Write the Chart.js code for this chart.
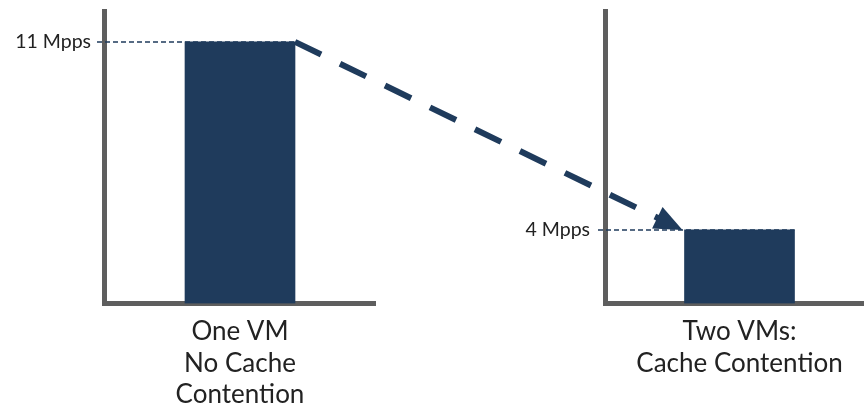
<!DOCTYPE html>
<html>
<head>
<meta charset="utf-8">
<script src="https://cdn.jsdelivr.net/npm/chart.js@4"></script>
<style>
  html, body { margin: 0; padding: 0; background: #fff; }
  body { width: 864px; height: 407px; position: relative; overflow: hidden; }
  canvas { position: absolute; top: 0; }
  #chartA { left: 0; }
  #chartB { left: 480px; }
  #arrow { left: 0; pointer-events: none; }
</style>
</head>
<body>
<canvas id="chartA" width="376" height="407"></canvas>
<canvas id="chartB" width="394" height="407"></canvas>
<canvas id="arrow" width="864" height="407"></canvas>
<script>
// Packet throughput, one VM vs. two VMs sharing the cache
const categoriesA = [['One VM', 'No Cache', 'Contention']];
const categoriesB = [['Two VMs:', 'Cache Contention']];
const valuesA = [11];
const valuesB = [4];
const tickValuesA = [11];
const tickValuesB = [4];
const unit = 'Mpps';
// each panel has its own (illustrative) vertical extent
const yMaxA = 12.3;
const yMaxB = 15.9;

const BAR = '#1f3b5c';
const AXIS = '#5e5e5e';
const TEXT = '#222222';
const FONT = 'Lato, "Noto Sans", sans-serif';

// thin dashed guide from the tick label across the top of the bar
const guidePlugin = {
  id: 'guide',
  afterDatasetsDraw(chart) {
    const ctx = chart.ctx;
    const yScale = chart.scales.y;
    const bar = chart.getDatasetMeta(0).data[0];
    const v = chart.data.datasets[0].data[0];
    const y = yScale.getPixelForValue(v);
    ctx.save();
    ctx.strokeStyle = BAR;
    ctx.lineWidth = 1.5;
    ctx.setLineDash([5, 3]);
    ctx.beginPath();
    ctx.moveTo(chart.chartArea.left - 7, y);
    ctx.lineTo(bar.x + bar.width / 2, y);
    ctx.stroke();
    ctx.restore();
  }
};

function makeChart(id, labels, values, ticks, yMax, yWidth, tickPad) {
  return new Chart(document.getElementById(id), {
    type: 'bar',
    data: {
      labels: labels,
      datasets: [{
        data: values,
        backgroundColor: BAR,
        borderWidth: 0,
        barThickness: 110
      }]
    },
    options: {
      responsive: false,
      animation: false,
      events: [],
      layout: { padding: { top: 11, right: 0, bottom: 0, left: 0 } },
      plugins: { legend: { display: false }, tooltip: { enabled: false } },
      scales: {
        x: {
          grid: { display: false, drawTicks: false },
          border: { display: true, color: AXIS, width: 5 },
          ticks: {
            color: TEXT,
            padding: 13,
            maxRotation: 0,
            autoSkip: false,
            font: { family: FONT, size: 26, lineHeight: 1.2 }
          },
          afterFit(s) { s.height = 103.5; s.paddingLeft = 0; s.paddingRight = 0; }
        },
        y: {
          min: 0,
          max: yMax,
          grid: { display: false, drawTicks: false },
          border: { display: true, color: AXIS, width: 5 },
          ticks: {
            color: TEXT,
            padding: tickPad,
            font: { family: FONT, size: 19.5 },
            callback: (v) => v + ' ' + unit
          },
          afterBuildTicks(s) { s.ticks = ticks.map(v => ({ value: v })); },
          afterFit(s) { s.width = yWidth; s.paddingTop = 0; s.paddingBottom = 0; }
        }
      }
    },
    plugins: [guidePlugin]
  });
}

const chartA = makeChart('chartA', categoriesA, valuesA, tickValuesA, yMaxA, 104, 13);
const chartB = makeChart('chartB', categoriesB, valuesB, tickValuesB, yMaxB, 125, 15);

// dashed arrow from the top of the first bar down to the second bar
function drawArrow() {
  const a = chartA.getDatasetMeta(0).data[0];
  const b = chartB.getDatasetMeta(0).data[0];
  const offA = chartA.canvas.offsetLeft;
  const offB = chartB.canvas.offsetLeft;
  const x0 = offA + a.x + a.width / 2;
  const y0 = chartA.scales.y.getPixelForValue(valuesA[0]);
  const x1 = offB + b.x - b.width / 2 - 2;
  const y1 = chartB.scales.y.getPixelForValue(valuesB[0]);
  const ang = Math.atan2(y1 - y0, x1 - x0);
  const headLen = 28, headHalf = 12;
  const bx = x1 - headLen * Math.cos(ang);
  const by = y1 - headLen * Math.sin(ang);
  const ctx = document.getElementById('arrow').getContext('2d');
  ctx.strokeStyle = BAR;
  ctx.fillStyle = BAR;
  ctx.lineWidth = 6;
  ctx.lineCap = 'butt';
  ctx.setLineDash([29, 21]);
  ctx.beginPath();
  ctx.moveTo(x0, y0);
  ctx.lineTo(bx + 4 * Math.cos(ang), by + 4 * Math.sin(ang));
  ctx.stroke();
  ctx.setLineDash([]);
  ctx.beginPath();
  ctx.moveTo(x1, y1);
  ctx.lineTo(bx + headHalf * Math.sin(ang), by - headHalf * Math.cos(ang));
  ctx.lineTo(bx - headHalf * Math.sin(ang), by + headHalf * Math.cos(ang));
  ctx.closePath();
  ctx.fill();
}
drawArrow();
</script>
</body>
</html>
